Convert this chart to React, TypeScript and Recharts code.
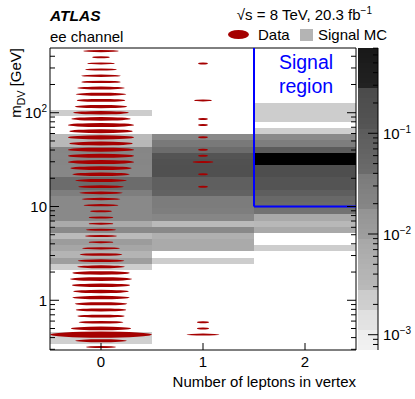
import { ComposedChart, XAxis, YAxis, Scatter, ReferenceArea, ReferenceLine } from 'recharts';

const FONT = '"Liberation Sans", Arial, Helvetica, sans-serif';
const RED = '#a50000';
const BLUE = '#0000ff';

// number of leptons in the vertex (x categories)
const LEPTON_COUNTS = [0, 1, 2];

// m_DV axis: 49 log-spaced bins between these edges
const M_MIN = 0.295;
const M_MAX = 490;
const N_MBINS = 49;

// data counts per m_DV bin, listed from the highest-mass bin downwards
const dataZeroLep = [
  120, 30, 72, 95, 151, 151, 217, 245, 226, 265, 296, 339, 423, 386, 423, 386, 423,
  423, 423, 362, 317, 255, 199, 182, 143, 115, 46, 59, 59, 85, 97, 59, 136, 174, 208,
  217, 317, 374, 328, 296, 317, 265, 245, 217, 191, 351, 1000, 255, 85,
];
const dataOneLep = [
  0, 0, 9, 0, 0, 0, 0, 0, 30, 0, 0, 9, 9, 0, 9, 0, 9, 9, 42, 0, 9, 0, 9, 0, 0, 0, 0, 0,
  0, 0, 0, 0, 0, 0, 0, 0, 0, 0, 0, 0, 0, 0, 0, 0, 14, 14, 103, 0, 0,
];

// signal MC (arbitrary normalisation), same bin order
const mcZeroLep = [
  0, 0, 0, 0, 0, 0, 0, 0, 0, 0, 0.0025, 0, 0, 0, 0.0029, 0.0032, 0.019, 0.018, 0.019,
  0.018, 0.018, 0.0395, 0.0395, 0.031, 0.0171, 0.0171, 0.0171, 0.0171, 0.0075, 0.0171,
  0.0029, 0.0108, 0.0085, 0.0041, 0.0096, 0.0026, 0, 0, 0, 0, 0, 0, 0, 0, 0, 0, 0.0022,
  0.0018, 0,
];
const mcOneLep = [
  0, 0, 0, 0, 0, 0, 0, 0, 0, 0, 0, 0, 0, 0, 0.0171, 0.0387, 0.0395, 0.12, 0.15, 0.17,
  0.17, 0.085, 0.085, 0.07, 0.034, 0.034, 0.031, 0.019, 0.0029, 0.0171, 0.0052, 0.0075,
  0.0075, 0, 0.0026, 0, 0, 0, 0, 0, 0, 0, 0, 0, 0, 0, 0, 0, 0,
];
const mcTwoLep = [
  0, 0, 0, 0, 0, 0, 0, 0, 0, 0.0026, 0.0026, 0.0026, 0, 0.0022, 0.0171, 0.0306, 0.105,
  1, 1, 0.2, 0.2, 0.12, 0.12, 0.09, 0.05, 0.045, 0.039, 0.008, 0.0032, 0.008, 0, 0,
  0.0026, 0, 0, 0, 0, 0, 0, 0, 0, 0, 0, 0, 0, 0, 0, 0, 0,
];

// signal region: >= 2 leptons, m_DV > 10 GeV
const SR_X = [1.5, 2.5];
const SR_MASS_MIN = 10;

// axis ticks
const M_TICKS = [
  0.3, 0.4, 0.5, 0.6, 0.7, 0.8, 0.9, 1, 2, 3, 4, 5, 6, 7, 8, 9, 10, 20, 30, 40, 50, 60,
  70, 80, 90, 100, 200, 300, 400,
];
const Z_TICKS = [
  0.0008, 0.0009, 0.001, 0.002, 0.003, 0.004, 0.005, 0.006, 0.007, 0.008, 0.009, 0.01,
  0.02, 0.03, 0.04, 0.05, 0.06, 0.07, 0.08, 0.09, 0.1, 0.2, 0.3, 0.4, 0.5, 0.6, 0.7,
];

// colour axis range and grey palette (fraction of log range -> grey level)
const Z_MIN = 7.05e-4;
const Z_MAX = 0.703;
const GREY_STOPS: [number, number][] = [
  [0, 242], [0.066, 238], [0.067, 228], [0.13, 224], [0.132, 208], [0.2, 204],
  [0.202, 186], [0.36, 168], [0.362, 160], [0.46, 148], [0.462, 136], [0.58, 122],
  [0.582, 108], [0.74, 90], [0.742, 84], [0.87, 74], [0.872, 34], [1, 24],
];
const N_PALETTE = 60;

const logM = [Math.log10(M_MIN), Math.log10(M_MAX)];
const mStep = (logM[1] - logM[0]) / N_MBINS;
const binEdges = (i: number) => [10 ** (logM[1] - (i + 1) * mStep), 10 ** (logM[1] - i * mStep)];

const logZ = [Math.log10(Z_MIN), Math.log10(Z_MAX)];
function greyFor(z: number) {
  const f = (Math.log10(z) - logZ[0]) / (logZ[1] - logZ[0]);
  if (f > 1) return '#000000';
  let g = GREY_STOPS[0][1];
  for (let k = 1; k < GREY_STOPS.length; k++) {
    const [f0, g0] = GREY_STOPS[k - 1];
    const [f1, g1] = GREY_STOPS[k];
    if (f <= f1) {
      g = g0 + ((Math.max(f, f0) - f0) / (f1 - f0)) * (g1 - g0);
      break;
    }
  }
  const h = Math.round(g).toString(16).padStart(2, '0');
  return `#${h}${h}${h}`;
}

const mcCells = [mcZeroLep, mcOneLep, mcTwoLep].flatMap((col, c) =>
  col
    .map((z, i) => {
      const [lo, hi] = binEdges(i);
      return { x: LEPTON_COUNTS[c], lo, hi, z };
    })
    .filter((d) => d.z > 0)
);

const dataPoints = [dataZeroLep, dataOneLep].flatMap((col, c) =>
  col
    .map((n, i) => {
      const [lo, hi] = binEdges(i);
      return { x: LEPTON_COUNTS[c], y: Math.sqrt(lo * hi), n };
    })
    .filter((p) => p.n > 0)
);
const N_MAX = Math.max(...dataPoints.map((p) => p.n));

// colour scale bands, inset slightly so they stay inside the axis domain
const paletteBands = Array.from({ length: N_PALETTE }, (_, k) => {
  const a = logZ[0] + ((logZ[1] - logZ[0]) * k) / N_PALETTE;
  const b = logZ[0] + ((logZ[1] - logZ[0]) * (k + 1)) / N_PALETTE;
  return {
    x: 0.5,
    y: 10 ** ((a + b) / 2),
    lo: 10 ** (a + 1e-9),
    hi: 10 ** (b - 1e-9),
    color: greyFor(10 ** ((a + b) / 2)),
  };
});

const isDecade = (v: number) => Math.abs(Math.log10(v) - Math.round(Math.log10(v))) < 1e-6;

// surface of the ellipse proportional to the bin content
const DataEllipse = (props: any) => {
  const { cx, cy, payload } = props;
  const s = Math.sqrt(payload.n / N_MAX);
  return <ellipse cx={cx} cy={cy} rx={51 * s} ry={Math.max(1, 3.1 * s)} fill={RED} />;
};

const MassTick = (props: any) => {
  const { x, y, payload, side } = props;
  const v = payload.value;
  const major = isDecade(v);
  const len = major ? 9 : 5;
  const dir = side === 'left' ? 1 : -1;
  const exp = Math.round(Math.log10(v));
  return (
    <g>
      <line x1={x} x2={x + dir * len} y1={y} y2={y} stroke="#000" />
      {side === 'left' && major && (
        <text x={x - 3} y={y + 5.5} textAnchor="end" fontSize={15} fontFamily={FONT} fill="#000">
          {exp === 0 ? '1' : '10'}
          {exp > 1 && (
            <tspan fontSize={10} dy={-6}>
              {exp}
            </tspan>
          )}
        </text>
      )}
    </g>
  );
};

const LeptonTick = (props: any) => {
  const { x, y, payload, side } = props;
  const dir = side === 'bottom' ? -1 : 1;
  return (
    <g>
      <line x1={x} x2={x} y1={y} y2={y + dir * 7} stroke="#000" />
      {side === 'bottom' && (
        <text x={x} y={y + 17} textAnchor="middle" fontSize={15} fontFamily={FONT} fill="#000">
          {payload.value}
        </text>
      )}
    </g>
  );
};

const ZTick = (props: any) => {
  const { x, y, payload } = props;
  const v = payload.value;
  const major = isDecade(v);
  return (
    <g>
      <line x1={x} x2={x - (major ? 10 : 5)} y1={y} y2={y} stroke="#000" />
      {major && (
        <text x={x + 5} y={y + 5.5} fontSize={15} fontFamily={FONT} fill="#000">
          10
          <tspan fontSize={10} dy={-6}>
            {`\u2212${-Math.round(Math.log10(v))}`}
          </tspan>
        </text>
      )}
    </g>
  );
};

const axisCommon = {
  interval: 0 as const,
  tickSize: 0,
  tickMargin: 0,
  axisLine: false,
  tickLine: false,
  allowDataOverflow: true,
};

export default function App() {
  return (
    <div
      style={{ position: 'absolute', left: 0, top: 0, width: 415, height: 399, background: '#fff' }}
    >
      <div style={{ position: 'absolute', left: 0, top: 0 }}>
        <ComposedChart width={415} height={399} margin={{ top: 47, right: 58, bottom: 48, left: 49 }}>
          <XAxis
            {...axisCommon}
            xAxisId="b"
            type="number"
            dataKey="x"
            domain={[-0.5, 2.5]}
            ticks={LEPTON_COUNTS}
            height={1}
            tick={(p: any) => <LeptonTick {...p} side="bottom" />}
          />
          <XAxis
            {...axisCommon}
            xAxisId="t"
            orientation="top"
            type="number"
            domain={[-0.5, 2.5]}
            ticks={LEPTON_COUNTS}
            height={1}
            tick={(p: any) => <LeptonTick {...p} side="top" />}
          />
          <YAxis
            {...axisCommon}
            yAxisId="l"
            type="number"
            dataKey="y"
            scale="log"
            domain={[M_MIN, M_MAX]}
            ticks={M_TICKS}
            width={1}
            tick={(p: any) => <MassTick {...p} side="left" />}
          />
          <YAxis
            {...axisCommon}
            yAxisId="r"
            orientation="right"
            type="number"
            scale="log"
            domain={[M_MIN, M_MAX]}
            ticks={M_TICKS}
            width={1}
            tick={(p: any) => <MassTick {...p} side="right" />}
          />
          {mcCells.map((c, i) => (
            <ReferenceArea
              key={`mc-${i}`}
              xAxisId="b"
              yAxisId="l"
              x1={c.x - 0.5}
              x2={c.x + 0.5}
              y1={c.lo}
              y2={c.hi}
              fill={greyFor(c.z)}
              fillOpacity={1}
              stroke="none"
              shapeRendering="crispEdges"
            />
          ))}
          <ReferenceArea
            xAxisId="b"
            yAxisId="l"
            x1={-0.5}
            x2={2.5}
            y1={M_MIN}
            y2={M_MAX}
            fill="none"
            fillOpacity={0}
            stroke="#000"
            strokeWidth={1}
          />
          <ReferenceLine
            xAxisId="b"
            yAxisId="l"
            segment={[
              { x: SR_X[0], y: SR_MASS_MIN },
              { x: SR_X[0], y: M_MAX },
            ]}
            stroke={BLUE}
            strokeWidth={2}
            ifOverflow="visible"
          />
          <ReferenceLine
            xAxisId="b"
            yAxisId="l"
            segment={[
              { x: SR_X[0], y: SR_MASS_MIN },
              { x: SR_X[1], y: SR_MASS_MIN },
            ]}
            stroke={BLUE}
            strokeWidth={2}
            ifOverflow="visible"
          />
          <Scatter
            xAxisId="b"
            yAxisId="l"
            data={dataPoints}
            dataKey="y"
            shape={DataEllipse}
            isAnimationActive={false}
          />
        </ComposedChart>
      </div>

      <div style={{ position: 'absolute', left: 0, top: 0 }}>
        <ComposedChart
          width={415}
          height={399}
          data={paletteBands}
          margin={{ top: 48, right: 36, bottom: 49, left: 358 }}
        >
          <XAxis xAxisId="z" type="number" dataKey="x" domain={[0, 1]} hide allowDataOverflow />
          <YAxis
            {...axisCommon}
            yAxisId="z"
            orientation="right"
            type="number"
            dataKey="y"
            scale="log"
            domain={[Z_MIN, Z_MAX]}
            ticks={Z_TICKS}
            width={1}
            axisLine={{ stroke: '#000' }}
            tick={(p: any) => <ZTick {...p} />}
          />
          {paletteBands.map((b, i) => (
            <ReferenceArea
              key={`pal-${i}`}
              xAxisId="z"
              yAxisId="z"
              x1={0}
              x2={1}
              y1={b.lo}
              y2={b.hi}
              fill={b.color}
              fillOpacity={1}
              stroke="none"
              shapeRendering="crispEdges"
              ifOverflow="visible"
            />
          ))}
          <Scatter
            xAxisId="z"
            yAxisId="z"
            dataKey="y"
            shape={() => <g />}
            isAnimationActive={false}
          />
        </ComposedChart>
      </div>

      <svg
        width={415}
        height={399}
        style={{ position: 'absolute', left: 0, top: 0, pointerEvents: 'none' }}
        fontFamily={FONT}
      >
        <text x={50} y={21} fontSize={15.5} fontWeight="bold" fontStyle="italic">
          ATLAS
        </text>
        <text x={50} y={42} fontSize={15}>
          ee channel
        </text>
        <text x={372} y={20} fontSize={15} textAnchor="end">
          {'\u221As = 8 TeV, 20.3 fb'}
          <tspan fontSize={10} dy={-6}>
            {'\u22121'}
          </tspan>
        </text>
        <ellipse cx={238.5} cy={34.5} rx={10.5} ry={4.5} fill={RED} />
        <text x={258} y={40} fontSize={15}>
          Data
        </text>
        <rect x={300} y={29} width={13} height={12} fill="#b4b4b4" />
        <text x={318} y={40} fontSize={15}>
          Signal MC
        </text>
        <text x={306} y={69} fontSize={19.5} fill={BLUE} textAnchor="middle">
          Signal
        </text>
        <text x={306} y={93} fontSize={19.5} fill={BLUE} textAnchor="middle">
          region
        </text>
        <text x={21} y={48} fontSize={15} textAnchor="end" transform="rotate(-90 21 48)">
          m
          <tspan fontSize={10.5} dy={4}>
            DV
          </tspan>
          <tspan dy={-4}> [GeV]</tspan>
        </text>
        <text x={356} y={387} fontSize={15} textAnchor="end">
          Number of leptons in vertex
        </text>
      </svg>
    </div>
  );
}
